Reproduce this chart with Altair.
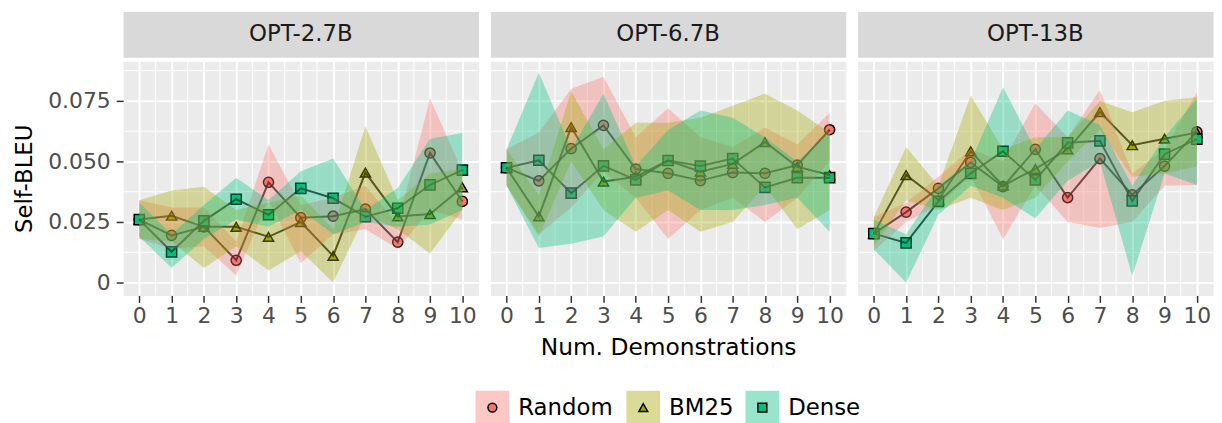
import altair as alt
import pandas as pd

models = ["OPT-2.7B", "OPT-6.7B", "OPT-13B"]
methods = ["Random", "BM25", "Dense"]
demos = list(range(11))
colors = ["#F8766D", "#A3A500", "#00BF7D"]
shapes = ["circle", "triangle-up", "square"]

y_ticks = [0, 0.025, 0.05, 0.075]
minor_x = [0.5, 1.5, 2.5, 3.5, 4.5, 5.5, 6.5, 7.5, 8.5, 9.5]
minor_y = [0.0125, 0.0375, 0.0625, 0.0875]

# ---- OPT-2.7B ----
p1_random_y = [0.0260, 0.0195, 0.0230, 0.0092, 0.0414, 0.0268, 0.0274, 0.0303, 0.0167, 0.0535, 0.0335]
p1_random_lo = [0.018, 0.014, 0.015, 0.003, 0.034, 0.008, 0.020, 0.022, 0.014, 0.030, 0.026]
p1_random_hi = [0.034, 0.031, 0.031, 0.017, 0.057, 0.032, 0.035, 0.040, 0.024, 0.076, 0.046]
p1_bm25_y = [0.0260, 0.0276, 0.0230, 0.0230, 0.0189, 0.0250, 0.0110, 0.0454, 0.0273, 0.0283, 0.0393]
p1_bm25_lo = [0.018, 0.017, 0.006, 0.015, 0.005, 0.013, 0.000, 0.028, 0.022, 0.012, 0.030]
p1_bm25_hi = [0.034, 0.038, 0.0396, 0.030, 0.033, 0.036, 0.022, 0.0645, 0.034, 0.045, 0.047]
p1_dense_y = [0.0260, 0.0127, 0.0255, 0.0344, 0.0280, 0.0389, 0.0348, 0.0272, 0.0307, 0.0403, 0.0464]
p1_dense_lo = [0.019, 0.006, 0.018, 0.026, 0.023, 0.030, 0.020, 0.025, 0.023, 0.024, 0.030]
p1_dense_hi = [0.033, 0.020, 0.032, 0.0433, 0.034, 0.046, 0.0512, 0.030, 0.039, 0.0594, 0.0617]

# ---- OPT-6.7B ----
p2_random_y = [0.0474, 0.0420, 0.0553, 0.0649, 0.0469, 0.0451, 0.0421, 0.0454, 0.0451, 0.0485, 0.0631]
p2_random_lo = [0.040, 0.020, 0.031, 0.046, 0.035, 0.018, 0.030, 0.035, 0.025, 0.035, 0.050]
p2_random_hi = [0.055, 0.062, 0.080, 0.085, 0.060, 0.072, 0.060, 0.056, 0.064, 0.057, 0.070]
p2_bm25_y = [0.0474, 0.0273, 0.0642, 0.0417, 0.0437, 0.0504, 0.0458, 0.0490, 0.0580, 0.0478, 0.0444]
p2_bm25_lo = [0.040, 0.019, 0.050, 0.030, 0.021, 0.030, 0.021, 0.025, 0.040, 0.022, 0.030]
p2_bm25_hi = [0.055, 0.036, 0.079, 0.055, 0.066, 0.066, 0.068, 0.073, 0.078, 0.071, 0.062]
p2_dense_y = [0.0474, 0.0505, 0.0369, 0.0482, 0.0424, 0.0504, 0.0481, 0.0512, 0.0393, 0.0433, 0.0433]
p2_dense_lo = [0.040, 0.0143, 0.016, 0.019, 0.035, 0.038, 0.030, 0.030, 0.032, 0.035, 0.021]
p2_dense_hi = [0.055, 0.0867, 0.055, 0.078, 0.048, 0.063, 0.071, 0.068, 0.060, 0.050, 0.062]

# ---- OPT-13B ----
p3_random_y = [0.0202, 0.0291, 0.0389, 0.0496, 0.0396, 0.0550, 0.0351, 0.0512, 0.0362, 0.0481, 0.0622]
p3_random_lo = [0.013, 0.025, 0.032, 0.044, 0.018, 0.040, 0.025, 0.0225, 0.025, 0.040, 0.0403]
p3_random_hi = [0.027, 0.033, 0.0437, 0.055, 0.050, 0.074, 0.060, 0.0795, 0.045, 0.055, 0.0786]
p3_bm25_y = [0.0202, 0.0444, 0.0342, 0.0542, 0.0400, 0.0469, 0.0550, 0.0704, 0.0567, 0.0594, 0.0619]
p3_bm25_lo = [0.015, 0.034, 0.030, 0.035, 0.030, 0.035, 0.050, 0.063, 0.0437, 0.045, 0.048]
p3_bm25_hi = [0.027, 0.056, 0.040, 0.0772, 0.055, 0.060, 0.060, 0.075, 0.0703, 0.0751, 0.0765]
p3_dense_y = [0.0202, 0.0164, 0.0335, 0.0451, 0.0542, 0.0424, 0.0577, 0.0585, 0.0337, 0.0530, 0.0592]
p3_dense_lo = [0.0137, 0.000, 0.028, 0.040, 0.035, 0.0266, 0.042, 0.050, 0.0027, 0.045, 0.0403]
p3_dense_hi = [0.026, 0.020, 0.040, 0.050, 0.0806, 0.055, 0.071, 0.065, 0.040, 0.060, 0.076]

series = {
    "OPT-2.7B": {
        "Random": (p1_random_y, p1_random_lo, p1_random_hi),
        "BM25": (p1_bm25_y, p1_bm25_lo, p1_bm25_hi),
        "Dense": (p1_dense_y, p1_dense_lo, p1_dense_hi),
    },
    "OPT-6.7B": {
        "Random": (p2_random_y, p2_random_lo, p2_random_hi),
        "BM25": (p2_bm25_y, p2_bm25_lo, p2_bm25_hi),
        "Dense": (p2_dense_y, p2_dense_lo, p2_dense_hi),
    },
    "OPT-13B": {
        "Random": (p3_random_y, p3_random_lo, p3_random_hi),
        "BM25": (p3_bm25_y, p3_bm25_lo, p3_bm25_hi),
        "Dense": (p3_dense_y, p3_dense_lo, p3_dense_hi),
    },
}

rows = []
for m in models:
    for k, meth in enumerate(methods):
        ys, los, his = series[m][meth]
        for i, x in enumerate(demos):
            rows.append(dict(model=m, method=meth, order=k,
                             x=x, y=ys[i], lo=los[i], hi=his[i]))
df = pd.DataFrame(rows)

W, H, SH = 358, 236, 46
PANEL_SPACING = 10
TOTAL_W = 3 * W + 2 * PANEL_SPACING
x_dom = [-0.5, 10.5]
y_dom = [-0.0053, 0.0914]
FONT = "DejaVu Sans"
PT = 105
KEY = 34
LEG_FONT = 23
LABEL_GAP = 9
ENTRY_GAP = 13
CHAR_W = 16          # approximate glyph advance of the legend font
LEG_START = 372      # left offset of the first legend key centre within the row

# legend entry offsets derived from each label's length (like a horizontal legend layout)
offsets, acc = [], 0
for name in methods:
    offsets.append(acc)
    acc += KEY + LABEL_GAP + CHAR_W * len(name) + ENTRY_GAP
legend_df = pd.DataFrame({"method": methods, "pos": offsets})

COLOR = alt.Color("method:N", scale=alt.Scale(domain=methods, range=colors), legend=None)
SHAPE = alt.Shape("method:N", scale=alt.Scale(domain=methods, range=shapes), legend=None)


def panel(idx, model):
    d = df[df.model == model]
    xs = alt.Scale(domain=x_dom, nice=False, zero=False)
    ys = alt.Scale(domain=y_dom, nice=False, zero=False)
    xax_kw = dict(values=demos, grid=True, gridColor="white", gridWidth=2,
                  tickColor="#333333", tickSize=7, tickWidth=1.5,
                  labelColor="#4D4D4D", labelFontSize=22, labelFont=FONT,
                  labelPadding=3, domain=False, format="d")
    if idx == 1:
        xax_kw.update(title="Num. Demonstrations", titleFontSize=23.5, titleFont=FONT,
                      titleFontWeight="normal", titleColor="#000000", titlePadding=10)
    else:
        xax_kw.update(title=None)
    yax_kw = dict(values=y_ticks, grid=True, gridColor="white", gridWidth=2, domain=False)
    if idx == 0:
        yax_kw.update(tickColor="#333333", tickSize=7, tickWidth=1.5,
                      labelColor="#4D4D4D", labelFontSize=22, labelFont=FONT,
                      labelPadding=6,
                      labelExpr="datum.value == 0 ? '0' : format(datum.value, '.3f')",
                      title="Self-BLEU", titleFontSize=23, titleFont=FONT,
                      titleFontWeight="normal", titleColor="#000000", titlePadding=11)
    else:
        yax_kw.update(labels=False, ticks=False, title=None)
    X = alt.X("x:Q", scale=xs, axis=alt.Axis(**xax_kw))
    Y = alt.Y("y:Q", scale=ys, axis=alt.Axis(**yax_kw))

    gv = alt.Chart(pd.DataFrame({"x": minor_x})).mark_rule(color="white", strokeWidth=1).encode(x=X)
    gh = alt.Chart(pd.DataFrame({"y": minor_y})).mark_rule(color="white", strokeWidth=1).encode(y=Y)
    pts = alt.Chart(d).mark_point(filled=True, size=PT, stroke="black", strokeWidth=1.5,
                                  opacity=1).encode(x=X, y=Y, color=COLOR, shape=SHAPE)
    lines = alt.Chart(d).mark_line(color="black", strokeWidth=2, opacity=0.8).encode(
        x=X, y=Y, detail="method:N")
    rib = alt.Chart(d).mark_area(opacity=0.35).encode(
        x=X,
        y=alt.Y("lo:Q", scale=ys, axis=alt.Axis(**yax_kw)),
        y2="hi:Q",
        color=COLOR,
        order=alt.Order("order:Q"),
    )
    body = alt.layer(gv, gh, pts, lines, rib).properties(width=W, height=H)
    strip = alt.Chart(pd.DataFrame({"model": [model]})).mark_text(
        fontSize=23, font=FONT, color="#1A1A1A").encode(text="model:N").properties(
        width=W, height=SH, view=alt.ViewBackground(fill="#D9D9D9", stroke="transparent"))
    return alt.vconcat(strip, body, spacing=2)


panels = alt.hconcat(*[panel(i, m) for i, m in enumerate(models)], spacing=PANEL_SPACING)

LX = alt.X("pos:Q", scale=alt.Scale(domain=[-LEG_START, TOTAL_W - LEG_START],
                                    nice=False, zero=False), axis=None)
leg_keys = alt.Chart(legend_df).mark_square(size=KEY * KEY, opacity=0.4).encode(x=LX, color=COLOR)
leg_pts = alt.Chart(legend_df).mark_point(filled=True, size=80, stroke="black", strokeWidth=1.5,
                                          opacity=1).encode(x=LX, color=COLOR, shape=SHAPE)
leg_txt = alt.Chart(legend_df).mark_text(align="left", baseline="middle", dx=KEY / 2 + LABEL_GAP,
                                         fontSize=LEG_FONT, font=FONT, color="#000000").encode(
    x=LX, text="method:N")
legend = alt.layer(leg_keys, leg_pts, leg_txt).properties(
    width=TOTAL_W, height=KEY, view=alt.ViewBackground(fill="white", stroke="transparent"))

chart = alt.vconcat(panels, legend, spacing=30).properties(
    padding={"left": 5, "top": 1, "right": 0, "bottom": 0}
).configure(font=FONT).configure_view(fill="#EBEBEB", stroke="transparent")

chart.save("out.html", embed_options={"renderer": "svg", "actions": False})
